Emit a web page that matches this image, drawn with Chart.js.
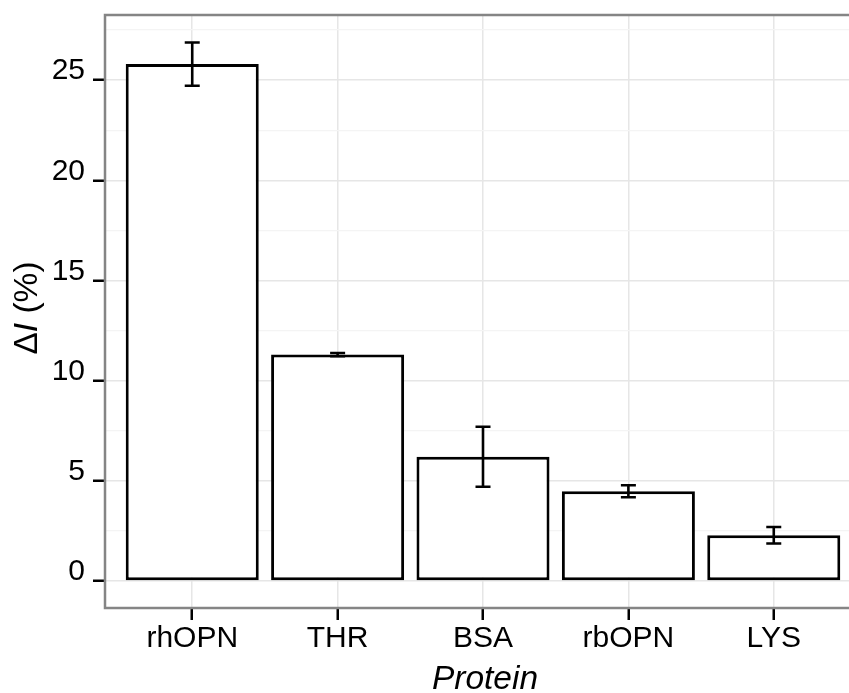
<!DOCTYPE html>
<html>
<head>
<meta charset="utf-8">
<script src="https://cdn.jsdelivr.net/npm/chart.js@4"></script>
<style>
  html, body { margin: 0; padding: 0; background: #fff; overflow: hidden; }
  canvas { display: block; }
</style>
</head>
<body>
<canvas id="grafico" width="870" height="693"></canvas>
<script>
// Datos del gráfico
const categories = ['rhOPN', 'THR', 'BSA', 'rbOPN', 'LYS'];
const means = [25.8, 11.3, 6.2, 4.48, 2.28];
const errors = [1.08, 0.08, 1.5, 0.3, 0.41];
const yMajor = [0, 5, 10, 15, 20, 25];
const yMinor = [2.5, 7.5, 12.5, 17.5, 22.5, 27.5];

const FONT = 'Liberation Sans, Arial, Helvetica, sans-serif';
const TEXT = '#000';

// Barras de error y borde del panel
const extras = {
  id: 'extras',
  afterDatasetsDraw(chart) {
    const ctx = chart.ctx;
    const xs = chart.scales.x, ys = chart.scales.y;
    ctx.save();
    ctx.strokeStyle = '#000';
    ctx.lineWidth = 2.6;
    ctx.lineCap = 'butt';
    categories.forEach((c, i) => {
      const x = xs.getPixelForValue(i);
      const top = ys.getPixelForValue(means[i] + errors[i]);
      const bot = ys.getPixelForValue(means[i] - errors[i]);
      ctx.beginPath();
      ctx.moveTo(x, top); ctx.lineTo(x, bot);
      ctx.moveTo(x - 7.5, top); ctx.lineTo(x + 7.5, top);
      ctx.moveTo(x - 7.5, bot); ctx.lineTo(x + 7.5, bot);
      ctx.stroke();
    });
    const a = chart.chartArea;
    ctx.strokeStyle = '#858585';
    ctx.lineWidth = 2.5;
    ctx.strokeRect(a.left, a.top, a.right - a.left, a.bottom - a.top);
    ctx.restore();
  },
  afterDraw(chart) {
    const ctx = chart.ctx;
    const a = chart.chartArea;
    ctx.save();
    ctx.fillStyle = TEXT;
    // titulo eje x
    ctx.font = 'italic 33.5px ' + FONT;
    ctx.textAlign = 'center';
    ctx.textBaseline = 'alphabetic';
    ctx.fillText('Protein', (a.left + a.right) / 2 + 2, 689);
    // titulo eje y: Δ normal, I cursiva
    const parts = [['Δ', '33.5px '], ['I', 'italic 33.5px '], [' (%)', '33.5px ']];
    let total = 0;
    parts.forEach(p => { ctx.font = p[1] + FONT; total += ctx.measureText(p[0]).width; });
    ctx.translate(28, 308);
    ctx.rotate(-Math.PI / 2);
    ctx.textAlign = 'left';
    ctx.textBaseline = 'middle';
    let x = -total / 2;
    parts.forEach(p => {
      ctx.font = p[1] + FONT;
      ctx.fillText(p[0], x, 0);
      x += ctx.measureText(p[0]).width;
    });
    ctx.restore();
  }
};

const ctx = document.getElementById('grafico').getContext('2d');
const miGrafico = new Chart(ctx, {
  type: 'bar',
  data: {
    datasets: [{
      data: means.map((m, i) => ({ x: i, y: m })),
      backgroundColor: '#fff',
      borderColor: '#000',
      borderWidth: 3,
      borderSkipped: false,
      categoryPercentage: 0.915,
      barPercentage: 1
    }]
  },
  options: {
    responsive: false,
    animation: false,
    layout: { padding: { top: 15, right: 9, left: 0, bottom: 0 } },
    plugins: { legend: { display: false }, tooltip: { enabled: false } },
    scales: {
      x: {
        type: 'linear',
        offset: false,
        min: -0.6,
        max: 4.6,
        afterBuildTicks: s => { s.ticks = categories.map((c, i) => ({ value: i })); },
        afterFit: s => {
          s.height = 693 - 608;
          s.paddingLeft = 0; s.paddingRight = 0;
        },
        grid: { offset: false, color: '#e6e6e6', lineWidth: 1.5, tickLength: 12, tickColor: '#000', tickWidth: 2.5 },
        border: { display: false },
        ticks: {
          callback: v => categories[v],
          font: { family: FONT, size: 30 },
          color: TEXT,
          padding: 1,
          maxRotation: 0,
          autoSkip: false
        }
      },
      y: {
        min: -1.35,
        max: 28.25,
        afterBuildTicks: s => {
          s.ticks = yMajor.concat(yMinor).sort((p, q) => p - q).map(v => ({ value: v }));
        },
        afterFit: s => {
          s.width = 105;
          s.paddingTop = 0; s.paddingBottom = 0;
        },
        grid: {
          color: c => yMajor.includes(c.tick.value) ? '#e6e6e6' : '#f4f4f4',
          lineWidth: c => yMajor.includes(c.tick.value) ? 1.5 : 1.2,
          tickLength: 12,
          tickColor: c => yMajor.includes(c.tick.value) ? '#000' : 'rgba(0,0,0,0)',
          tickWidth: 2.5
        },
        border: { display: false },
        ticks: {
          callback: v => yMajor.includes(v) ? String(v) : '',
          font: { family: FONT, size: 30 },
          color: TEXT,
          padding: 8,
          labelOffset: -9
        }
      }
    }
  },
  plugins: [extras]
});
</script>
</body>
</html>
